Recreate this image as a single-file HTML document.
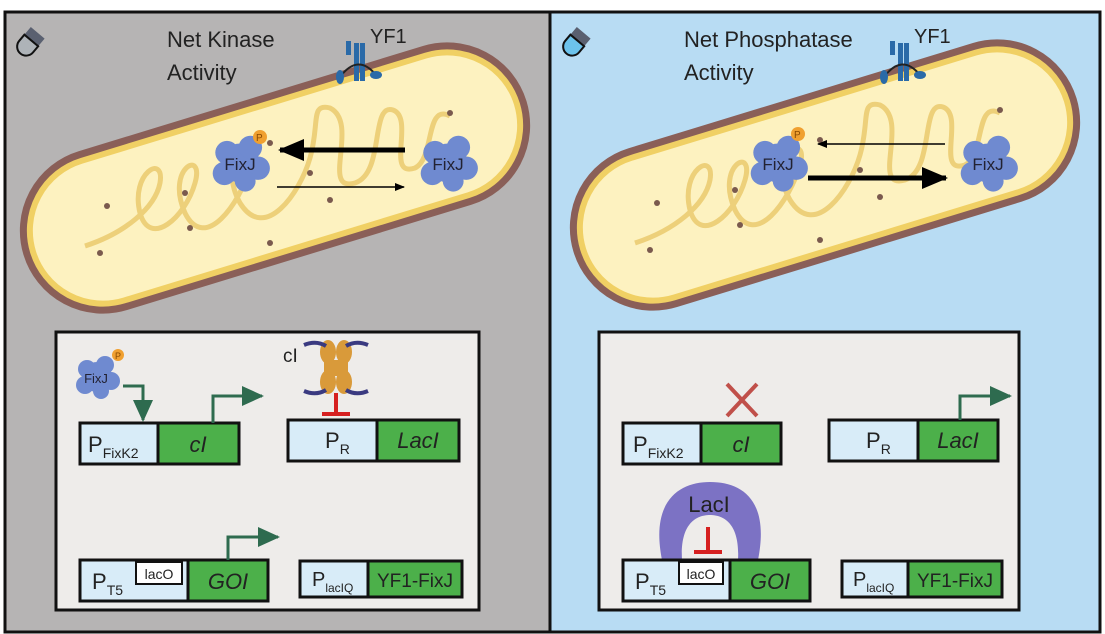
<!DOCTYPE html>
<html><head><meta charset="utf-8"><style>
body{margin:0;background:#fff;}
svg{display:block;font-family:"Liberation Sans",sans-serif;}
</style></head><body>
<svg width="1105" height="634" viewBox="0 0 1105 634" xmlns="http://www.w3.org/2000/svg">
<defs>
<marker id="ahs" markerWidth="10" markerHeight="8" refX="9" refY="4" orient="auto" markerUnits="userSpaceOnUse"><path d="M0,0 L10,4 L0,8 z" fill="#000"/></marker>
<marker id="ahb" markerWidth="26" markerHeight="22" refX="24" refY="11" orient="auto" markerUnits="userSpaceOnUse"><path d="M0,0 L26,11 L0,22 z" fill="#000"/></marker>
<marker id="gh" markerWidth="22" markerHeight="20" refX="20" refY="10" orient="auto" markerUnits="userSpaceOnUse"><path d="M0,0 L22,10 L0,20 z" fill="#2e6b4f"/></marker>
<g id="cell">
 <rect x="-258" y="-78" width="516" height="156" rx="78" fill="#fcf0bb" stroke="#8a5f58" stroke-width="10" transform="rotate(-17)"/>
 <rect x="-253" y="-73" width="506" height="146" rx="73" fill="#fdf2c0" stroke="#f0d064" stroke-width="6" transform="rotate(-17)"/>
 <path d="M-190,68 C-150,55 -120,30 -115,5 C-110,-25 -145,-5 -135,35 C-125,70 -90,40 -80,5 C-70,-30 -110,-10 -90,35 C-70,75 -35,25 -25,-10 C-15,-45 -60,-20 -35,25 C-10,65 25,15 35,-20 C45,-55 35,-75 55,-70 C85,-55 45,15 80,5 C110,-5 95,-75 118,-68 C140,-60 110,0 140,-10 C160,-20 150,-75 175,-62" fill="none" stroke="#edd07a" stroke-width="5"/>
 <g fill="#7a5a4e"><circle cx="-168" cy="28" r="3"/><circle cx="-85" cy="50" r="3"/><circle cx="-5" cy="-35" r="3"/><circle cx="-90" cy="15" r="3"/><circle cx="-175" cy="75" r="3"/><circle cx="-5" cy="65" r="3"/><circle cx="55" cy="22" r="3"/><circle cx="175" cy="-65" r="3"/><circle cx="35" cy="-5" r="3"/></g>
</g>
<g id="fixj"><g fill="#6f8ad0"><circle cx="0" cy="0" r="15"/><circle cx="-10" cy="-8" r="9"/><circle cx="8" cy="-12" r="9"/><circle cx="14" cy="4" r="9"/><circle cx="-12" cy="8" r="9"/><circle cx="4" cy="14" r="8"/></g></g>
<g id="yf1" fill="#2a6aa8"><rect x="-4" y="-22" width="5" height="38"/><rect x="2" y="-22" width="5" height="38"/><rect x="-12" y="-24" width="5" height="14"/><path d="M-18,12 Q0,-12 18,10" fill="none" stroke="#222" stroke-width="2"/><ellipse cx="-18" cy="12" rx="4" ry="7"/><ellipse cx="18" cy="10" rx="6" ry="4"/></g>
</defs>

<rect x="5" y="12" width="545" height="620" fill="#b6b4b4" stroke="#111" stroke-width="3"/>
<rect x="550" y="12" width="550" height="620" fill="#b8dcf3" stroke="#111" stroke-width="3"/>

<g transform="translate(30,42) rotate(40)"><rect x="-9" y="-12" width="18" height="10" fill="#5a6070"/><path d="M-9,-2 h18 v8 a9,9 0 0 1 -18,0z" fill="#aeb3b8" stroke="#111" stroke-width="2"/></g>
<g transform="translate(576,42) rotate(40)"><rect x="-9" y="-12" width="18" height="10" fill="#5a6070"/><path d="M-9,-2 h18 v8 a9,9 0 0 1 -18,0z" fill="#6cc3ec" stroke="#111" stroke-width="2"/></g>

<use href="#cell" transform="translate(275,178)"/>
<use href="#cell" transform="translate(825,175)"/>

<text x="167" y="47" font-size="22" fill="#222">Net Kinase</text>
<text x="167" y="80" font-size="22" fill="#222">Activity</text>
<text x="684" y="47" font-size="22" fill="#222">Net Phosphatase</text>
<text x="684" y="80" font-size="22" fill="#222">Activity</text>
<use href="#yf1" transform="translate(358,65)"/>
<text x="370" y="43" font-size="20" fill="#222">YF1</text>
<use href="#yf1" transform="translate(902,65)"/>
<text x="914" y="43" font-size="20" fill="#222">YF1</text>

<use href="#fixj" transform="translate(240,163) scale(1.3)"/>
<circle cx="260" cy="137" r="7" fill="#f0a030"/><text x="256" y="141" font-size="10" fill="#8a4a00">P</text>
<text x="240" y="170" font-size="17" text-anchor="middle" fill="#223">FixJ</text>
<use href="#fixj" transform="translate(448,163) scale(1.3)"/>
<text x="448" y="170" font-size="17" text-anchor="middle" fill="#223">FixJ</text>
<line x1="405" y1="150" x2="280" y2="150" stroke="#000" stroke-width="5" marker-end="url(#ahb)"/>
<line x1="277" y1="187" x2="404" y2="187" stroke="#000" stroke-width="1.5" marker-end="url(#ahs)"/>

<use href="#fixj" transform="translate(778,163) scale(1.3)"/>
<circle cx="798" cy="134" r="7" fill="#f0a030"/><text x="794" y="138" font-size="10" fill="#8a4a00">P</text>
<text x="778" y="170" font-size="17" text-anchor="middle" fill="#223">FixJ</text>
<use href="#fixj" transform="translate(988,163) scale(1.3)"/>
<text x="988" y="170" font-size="17" text-anchor="middle" fill="#223">FixJ</text>
<line x1="945" y1="144" x2="818" y2="144" stroke="#000" stroke-width="1.5" marker-end="url(#ahs)"/>
<line x1="808" y1="178" x2="946" y2="178" stroke="#000" stroke-width="5" marker-end="url(#ahb)"/>

<rect x="56" y="332" width="423" height="278" fill="#eeecea" stroke="#111" stroke-width="3"/>
<rect x="599" y="332" width="420" height="278" fill="#eeecea" stroke="#111" stroke-width="3"/>

<g font-size="22" fill="#222">
<rect x="80" y="423" width="78" height="41" fill="#d8ecf8" stroke="#111" stroke-width="3"/>
<rect x="158" y="423" width="81" height="41" fill="#4cb04a" stroke="#111" stroke-width="3"/>
<text x="88" y="452">P<tspan font-size="14" dy="6">FixK2</tspan></text>
<text x="198" y="452" text-anchor="middle" font-style="italic">cI</text>

<rect x="288" y="420" width="89" height="41" fill="#d8ecf8" stroke="#111" stroke-width="3"/>
<rect x="377" y="420" width="82" height="41" fill="#4cb04a" stroke="#111" stroke-width="3"/>
<text x="325" y="448">P<tspan font-size="14" dy="6">R</tspan></text>
<text x="418" y="448" text-anchor="middle" font-style="italic">LacI</text>

<rect x="80" y="560" width="108" height="41" fill="#d8ecf8" stroke="#111" stroke-width="3"/>
<rect x="136" y="562" width="46" height="22" fill="#fff" stroke="#111" stroke-width="2"/>
<text x="159" y="579" font-size="14" text-anchor="middle">lacO</text>
<rect x="188" y="560" width="80" height="41" fill="#4cb04a" stroke="#111" stroke-width="3"/>
<text x="92" y="589">P<tspan font-size="14" dy="6">T5</tspan></text>
<text x="228" y="589" text-anchor="middle" font-style="italic">GOI</text>

<rect x="300" y="561" width="68" height="36" fill="#d8ecf8" stroke="#111" stroke-width="3"/>
<rect x="368" y="561" width="94" height="36" fill="#4cb04a" stroke="#111" stroke-width="3"/>
<text x="312" y="586" font-size="20">P<tspan font-size="12" dy="6">lacIQ</tspan></text>
<text x="415" y="587" font-size="19" text-anchor="middle">YF1-FixJ</text>

<rect x="623" y="423" width="78" height="41" fill="#d8ecf8" stroke="#111" stroke-width="3"/>
<rect x="701" y="423" width="80" height="41" fill="#4cb04a" stroke="#111" stroke-width="3"/>
<text x="633" y="452">P<tspan font-size="14" dy="6">FixK2</tspan></text>
<text x="741" y="452" text-anchor="middle" font-style="italic">cI</text>

<rect x="829" y="420" width="89" height="41" fill="#d8ecf8" stroke="#111" stroke-width="3"/>
<rect x="918" y="420" width="80" height="41" fill="#4cb04a" stroke="#111" stroke-width="3"/>
<text x="866" y="448">P<tspan font-size="14" dy="6">R</tspan></text>
<text x="958" y="448" text-anchor="middle" font-style="italic">LacI</text>

<path d="M662,560 C650,500 680,482 710,482 C742,482 770,500 758,560 L738,560 C740,525 725,515 710,515 C695,515 680,525 682,560 Z" fill="#7c72c4"/>
<text x="709" y="512" text-anchor="middle" font-size="22" fill="#222">LacI</text>
<path d="M708,527 V552 M694,552 H722" stroke="#d62020" stroke-width="4" fill="none"/>

<rect x="623" y="560" width="107" height="41" fill="#d8ecf8" stroke="#111" stroke-width="3"/>
<rect x="679" y="562" width="44" height="22" fill="#fff" stroke="#111" stroke-width="2"/>
<text x="701" y="579" font-size="14" text-anchor="middle">lacO</text>
<rect x="730" y="560" width="80" height="41" fill="#4cb04a" stroke="#111" stroke-width="3"/>
<text x="635" y="589">P<tspan font-size="14" dy="6">T5</tspan></text>
<text x="770" y="589" text-anchor="middle" font-style="italic">GOI</text>

<rect x="842" y="561" width="66" height="36" fill="#d8ecf8" stroke="#111" stroke-width="3"/>
<rect x="908" y="561" width="94" height="36" fill="#4cb04a" stroke="#111" stroke-width="3"/>
<text x="853" y="586" font-size="20">P<tspan font-size="12" dy="6">lacIQ</tspan></text>
<text x="955" y="587" font-size="19" text-anchor="middle">YF1-FixJ</text>
</g>

<use href="#fixj" transform="translate(97,377)"/>
<circle cx="118" cy="355" r="6" fill="#f0a030"/><text x="115" y="359" font-size="9" fill="#8a4a00">P</text>
<text x="96" y="383" font-size="13" text-anchor="middle" fill="#223">FixJ</text>
<path d="M123,386 H143 V420" fill="none" stroke="#2e6b4f" stroke-width="3" marker-end="url(#gh)"/>
<path d="M213,423 V396 H262" fill="none" stroke="#2e6b4f" stroke-width="3" marker-end="url(#gh)"/>
<path d="M228,560 V537 H278" fill="none" stroke="#2e6b4f" stroke-width="3" marker-end="url(#gh)"/>
<path d="M960,420 V396 H1010" fill="none" stroke="#2e6b4f" stroke-width="3" marker-end="url(#gh)"/>

<text x="283" y="362" font-size="19" fill="#222">cI</text>
<g fill="#d99a3a"><ellipse cx="328" cy="352" rx="8" ry="12"/><ellipse cx="344" cy="352" rx="8" ry="12"/><ellipse cx="328" cy="382" rx="8" ry="12"/><ellipse cx="344" cy="382" rx="8" ry="12"/><rect x="324" y="360" width="24" height="16"/></g>
<path d="M304,345 Q316,340 326,346 M346,346 Q356,340 368,345 M304,391 Q316,396 326,390 M346,390 Q356,396 368,391" stroke="#3a3a80" stroke-width="4" fill="none"/>
<path d="M336,393 V414 M322,414 H350" stroke="#d62020" stroke-width="4" fill="none"/>

<path d="M727,384 L757,416 M757,384 L727,416" stroke="#c0504a" stroke-width="4"/>
</svg>
</body></html>
